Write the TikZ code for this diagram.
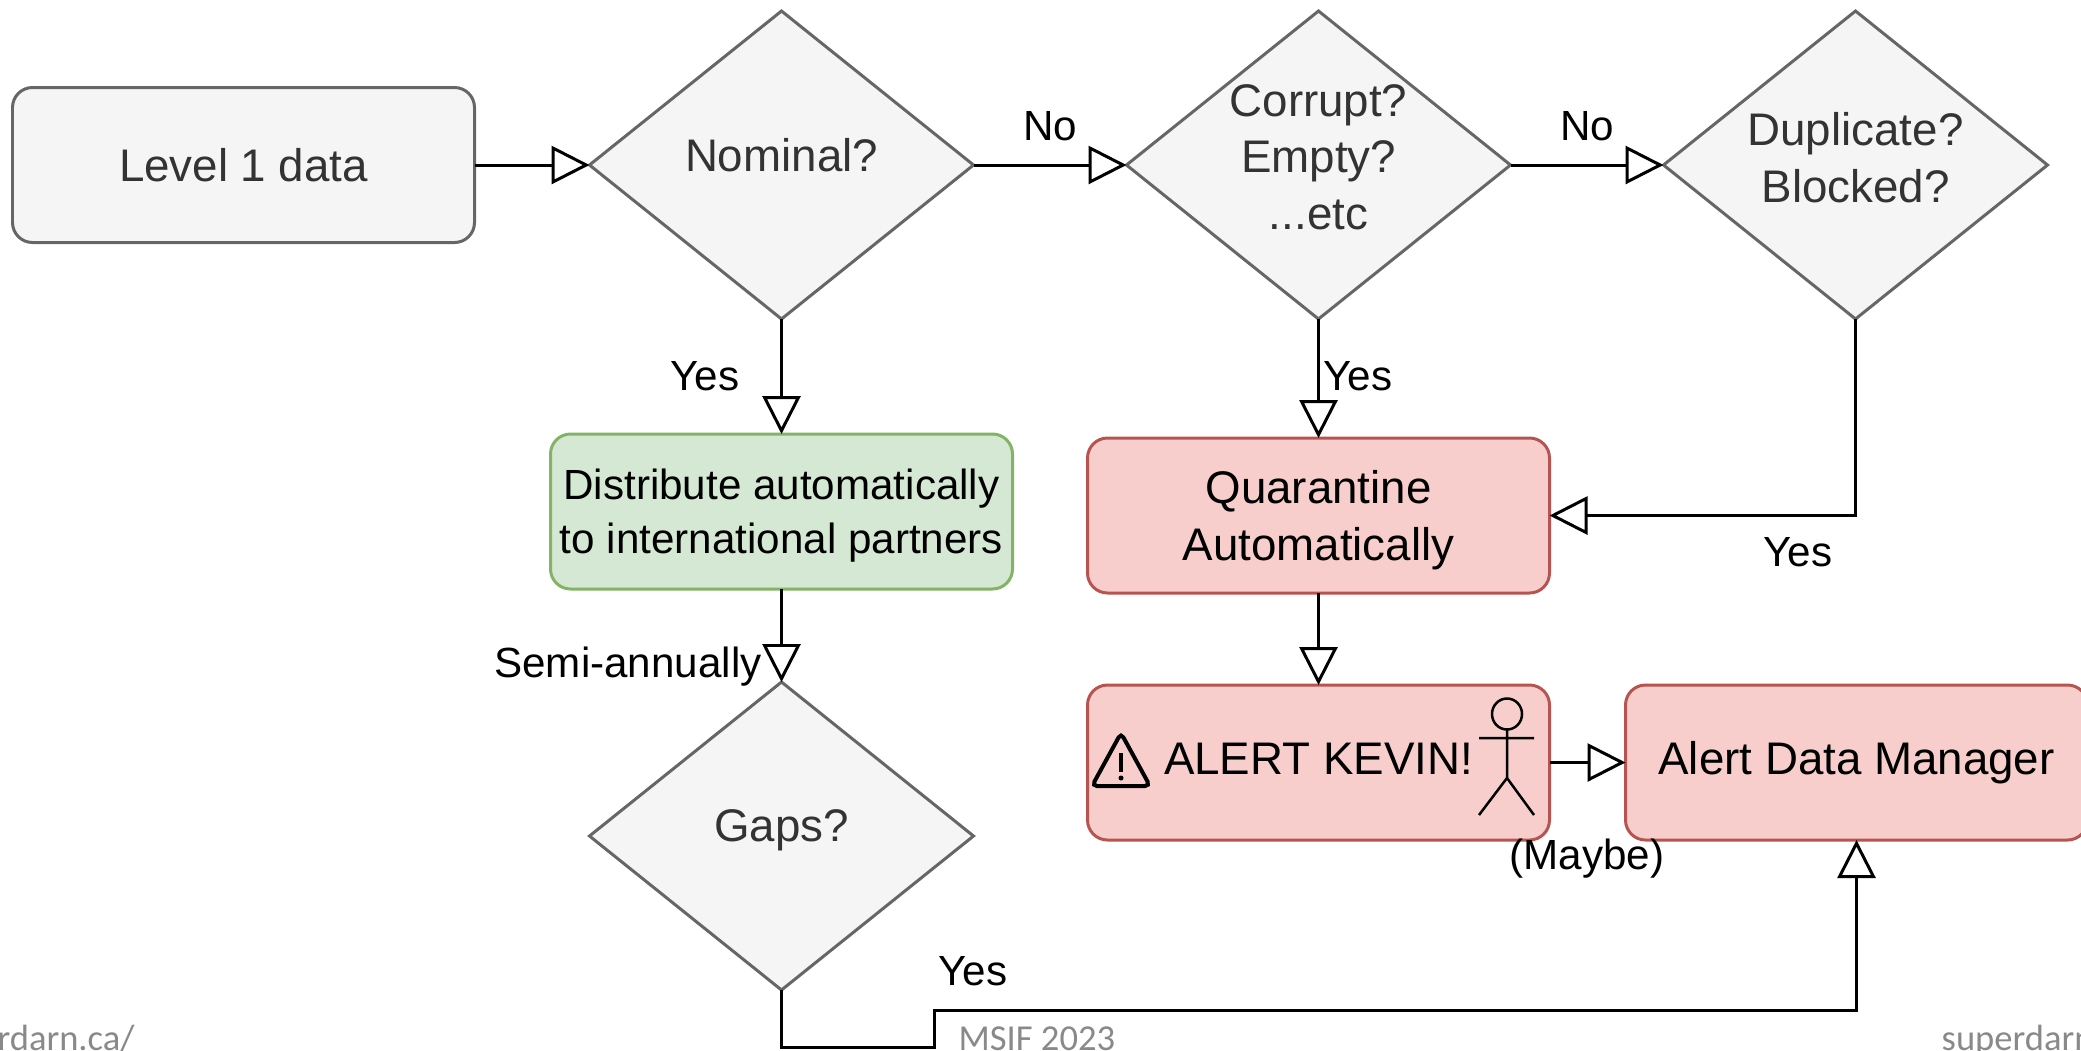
\documentclass[tikz,border=0pt]{standalone}
\usepackage{fontspec}
\setmainfont{Liberation Sans}
\newfontfamily\slidefont{Carlito}
\usetikzlibrary{positioning,arrows.meta,shapes.geometric}

\definecolor{greyfill}{HTML}{F5F5F5}
\definecolor{greyline}{HTML}{666666}
\definecolor{greytext}{HTML}{333333}
\definecolor{greenfill}{HTML}{D5E8D4}
\definecolor{greenline}{HTML}{82B366}
\definecolor{redfill}{HTML}{F8CECC}
\definecolor{redline}{HTML}{B85450}
\definecolor{slidegrey}{HTML}{898989}

\begin{document}
\begin{tikzpicture}[
    box/.style={draw, rounded corners=0.2cm, line width=0.03cm, minimum width=4.62cm, minimum height=1.55cm, inner sep=0pt, outer sep=0pt, align=center, font=\fontsize{13}{16.2}\selectfont},
    greybox/.style={box, draw=greyline, fill=greyfill, text=greytext},
    greenbox/.style={box, draw=greenline, fill=greenfill, font=\fontsize{12}{15.2}\selectfont},
    redbox/.style={box, draw=redline, fill=redfill},
    decision/.style={diamond, aspect=1.25, draw=greyline, fill=greyfill, text=greytext, line width=0.03cm, minimum width=3.84cm, minimum height=3.08cm, inner sep=-1cm, outer sep=0pt, align=center, font=\fontsize{13}{16.2}\selectfont, text depth=0.16cm},
    flow/.style={draw, line width=0.03cm, -{Triangle[length=0.38cm,width=0.38cm,fill=white]}},
    lbl/.style={inner sep=0pt, font=\fontsize{12}{14}\selectfont},
    slidetext/.style={anchor=base west, inner sep=0pt, text=slidegrey, font=\slidefont\fontsize{10.4}{12}\selectfont}]
    \clip (0,0) rectangle (20.81,-10.50);
    \node[greybox] (level) at (2.435,-1.65) {Level 1 data};
    \node[decision, right=1.15cm of level, text depth=0.2cm] (nominal) {Nominal?};
    \node[decision, right=1.53cm of nominal] (corrupt) {Corrupt?\\Empty?\\...etc};
    \node[decision, right=1.53cm of corrupt] (duplicate) {Duplicate?\\Blocked?};
    \node[greenbox, below=1.15cm of nominal, text height=0.92cm] (distribute) {Distribute automatically\\to international partners};
    \node[decision, below=0.93cm of distribute, text depth=0.2cm] (gaps) {Gaps?};
    \node[redbox, below=1.19cm of corrupt, text height=1cm] (quarantine) {Quarantine\\Automatically};
    \node[redbox, below=0.92cm of quarantine, text depth=0.08cm] (kevin) {ALERT KEVIN!};
    \node[redbox, right=0.76cm of kevin] (manager) {Alert Data Manager};
    \coordinate (lowturn) at (9.34,-10.47);
    \coordinate (riseturn) at (9.34,-10.10);
    \draw[flow] (level)--(nominal);
    \draw[flow] (nominal)--(corrupt);
    \draw[flow] (corrupt)--(duplicate);
    \draw[flow] (nominal)--(distribute);
    \draw[flow] (corrupt)--(quarantine);
    \draw[flow] (duplicate.south) |- (quarantine.east);
    \draw[flow] (distribute)--(gaps);
    \draw[flow] (quarantine)--(kevin);
    \draw[flow] (kevin)--(manager);
    \draw[flow] (gaps.south) |- (lowturn) -- (riseturn) -| (manager.south);
    \node[lbl] (nonominal) at (10.50,-1.26) {No};
    \node[lbl] (nocorrupt) at (15.87,-1.26) {No};
    \node[lbl] (yesnominal) at (7.05,-3.76) {Yes};
    \node[lbl] (yescorrupt) at (13.58,-3.76) {Yes};
    \node[lbl] (yesduplicate) at (17.98,-5.52) {Yes};
    \node[lbl] (semi) at (6.28,-6.67) {Semi-annually};
    \node[lbl] (maybe) at (15.87,-8.59) {(Maybe)};
    \node[lbl] (yesgaps) at (9.73,-9.71) {Yes};
    \node[slidetext] (urlleft) at (-0.74,-10.50) {superdarn.ca/};
    \node[slidetext] (msif) at (9.58,-10.50) {MSIF 2023};
    \node[slidetext] (urlright) at (19.41,-10.50) {superdarn.ca/};
    \draw[line width=0.04cm, rounded corners=0.05cm] (11.21,-7.33) -- (11.50,-7.86) -- (10.92,-7.86) -- cycle;
    \draw[line width=0.04cm] (11.21,-7.53) -- (11.21,-7.72);
    \fill (11.21,-7.78) circle (0.025);
    \draw[line width=0.025cm] (15.07,-7.14) circle [x radius=0.15, y radius=0.155];
    \draw[line width=0.025cm] (15.07,-7.29) -- (15.07,-7.78) (14.79,-7.38) -- (15.34,-7.38) (14.79,-8.15) -- (15.07,-7.78) -- (15.34,-8.15);
  \end{tikzpicture}
\end{document}
